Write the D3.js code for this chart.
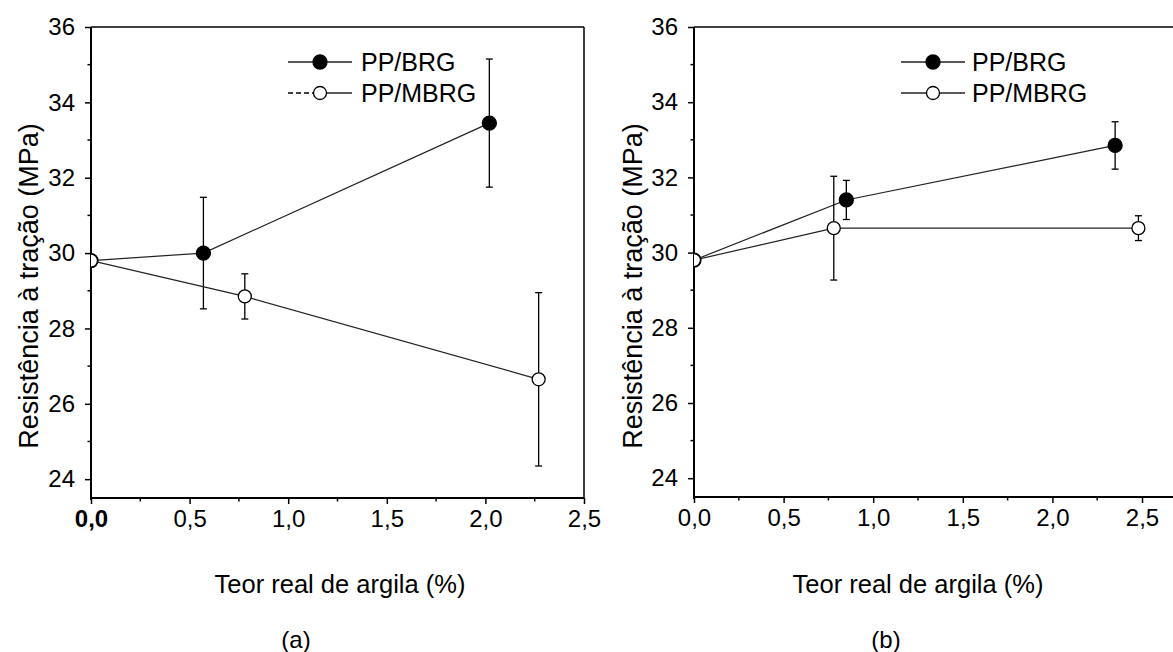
<!DOCTYPE html>
<html>
<head>
<meta charset="utf-8">
<script src="https://cdn.jsdelivr.net/npm/d3@7"></script>
<style>
  html, body { margin: 0; padding: 0; background: #fff; }
  svg { display: block; }
  text { font-family: "Liberation Sans", Arial, sans-serif; fill: #000; }
</style>
</head>
<body>
<svg id="chart" width="1173" height="652"></svg>
<script>
// ---------- data ----------
const xTickValues = [0, 0.5, 1.0, 1.5, 2.0, 2.5];
const xTickLabels = ["0,0", "0,5", "1,0", "1,5", "2,0", "2,5"];
const yTickValues = [24, 26, 28, 30, 32, 34, 36];
const seriesNames = ["PP/BRG", "PP/MBRG"];
const yTitle = "Resistência à tração (MPa)";
const xTitle = "Teor real de argila (%)";
const panelLabels = ["(a)", "(b)"];

// panel (a)
const aBRG_x = [0, 0.57, 2.02];
const aBRG_y = [29.8, 30.0, 33.45];
const aBRG_err = [0, 1.48, 1.7];
const aMBRG_x = [0, 0.78, 2.27];
const aMBRG_y = [29.8, 28.85, 26.65];
const aMBRG_err = [0, 0.6, 2.3];

// panel (b)
const bBRG_x = [0, 0.85, 2.35];
const bBRG_y = [29.8, 31.4, 32.85];
const bBRG_err = [0, 0.52, 0.63];
const bMBRG_x = [0, 0.78, 2.48];
const bMBRG_y = [29.8, 30.65, 30.65];
const bMBRG_err = [0, 1.38, 0.33];

// ---------- layout ----------
const svg = d3.select("#chart");
const TICK_FONT = 24;
const LEG_FONT = 25;
const XT_FONT = 25.5;
const YT_FONT = 27;
const LAB_FONT = 24;

const panels = [
  {
    key: "a",
    xDomain: [0, 2.5], xRange: [91, 584],
    yDomain: [23.5, 36], yRange: [498, 27],
    rightFrame: true,
    series: [
      {x: aBRG_x, y: aBRG_y, e: aBRG_err, filled: true},
      {x: aMBRG_x, y: aMBRG_y, e: aMBRG_err, filled: false}
    ],
    legend: {x: 320, y: 62, textX: 361},
    label: panelLabels[0], labelX: 296,
    titleX: 340, yTitleX: 38,
    boldZero: true, dashedLegend: true
  },
  {
    key: "b",
    xDomain: [0, 2.712], xRange: [694, 1180],
    yDomain: [23.5, 36], yRange: [497, 27],
    rightFrame: false,
    series: [
      {x: bBRG_x, y: bBRG_y, e: bBRG_err, filled: true},
      {x: bMBRG_x, y: bMBRG_y, e: bMBRG_err, filled: false}
    ],
    legend: {x: 933, y: 62, textX: 972},
    label: panelLabels[1], labelX: 886,
    titleX: 918, yTitleX: 642,
    boldZero: false, dashedLegend: false
  }
];

panels.forEach((p, pi) => {
  const x = d3.scaleLinear().domain(p.xDomain).range(p.xRange);
  const y = d3.scaleLinear().domain(p.yDomain).range(p.yRange);
  const g = svg.append("g");
  const x0 = p.xRange[0], x1 = p.xRange[1], yb = p.yRange[0], yt = p.yRange[1];

  const clipId = "clip-" + p.key;
  svg.append("clipPath").attr("id", clipId)
    .append("rect").attr("x", x0).attr("y", yt - 10).attr("width", x1 - x0 + 20).attr("height", yb - yt + 10);

  // frame
  g.append("line").attr("x1", x0).attr("x2", x1).attr("y1", yt).attr("y2", yt)
    .attr("stroke", "#000").attr("stroke-width", 1.5);
  if (p.rightFrame) {
    g.append("line").attr("x1", x1).attr("x2", x1).attr("y1", yt).attr("y2", yb)
      .attr("stroke", "#000").attr("stroke-width", 1.5);
  }

  // x axis
  const xAxis = d3.axisBottom(x).tickValues(xTickValues)
    .tickFormat((d, i) => xTickLabels[i]).tickSize(6).tickPadding(6);
  const gx = g.append("g").attr("transform", `translate(0,${yb})`).call(xAxis);
  gx.select(".domain").attr("stroke-width", 2).attr("d", `M${x0},0H${Math.min(x1, 1175)}`);
  gx.selectAll(".tick line").attr("stroke-width", 1.5);
  gx.selectAll(".tick text").attr("font-size", TICK_FONT)
    .attr("font-family", '"Liberation Sans", Arial, sans-serif')
    .attr("font-weight", (d, i) => (p.boldZero && i === 0) ? "bold" : "normal");
  const xMinor = d3.range(0.25, 2.5, 0.5);
  g.append("g").selectAll("line").data(xMinor).join("line")
    .attr("x1", d => x(d)).attr("x2", d => x(d)).attr("y1", yb).attr("y2", yb + 3.5)
    .attr("stroke", "#000").attr("stroke-width", 1.5);

  // y axis
  const yAxis = d3.axisLeft(y).tickValues(yTickValues).tickFormat(d3.format("d")).tickSize(6).tickPadding(10);
  const gy = g.append("g").attr("transform", `translate(${x0},0)`).call(yAxis);
  gy.select(".domain").attr("stroke-width", 2).attr("d", `M0,${yt}V${yb + 2}`);
  gy.selectAll(".tick line").attr("stroke-width", 1.5);
  gy.selectAll(".tick text").attr("font-size", TICK_FONT)
    .attr("font-family", '"Liberation Sans", Arial, sans-serif');
  const yMinor = d3.range(25, 36, 2);
  g.append("g").selectAll("line").data(yMinor).join("line")
    .attr("x1", x0).attr("x2", x0 - 3.5).attr("y1", d => y(d)).attr("y2", d => y(d))
    .attr("stroke", "#000").attr("stroke-width", 1.5);

  // titles
  g.append("text").attr("x", p.titleX).attr("y", 593).attr("text-anchor", "middle")
    .attr("font-size", XT_FONT).text(xTitle);
  g.append("text").attr("transform", `translate(${p.yTitleX},286) rotate(-90)`)
    .attr("text-anchor", "middle").attr("font-size", YT_FONT).text(yTitle);
  g.append("text").attr("x", p.labelX).attr("y", 648).attr("text-anchor", "middle")
    .attr("font-size", LAB_FONT).text(p.label);

  // data
  const plot = g.append("g").attr("clip-path", `url(#${clipId})`);
  p.series.forEach(s => {
    const pts = s.x.map((xv, i) => ({x: xv, y: s.y[i], e: s.e[i]}));
    plot.append("path").datum(pts)
      .attr("d", d3.line().x(d => x(d.x)).y(d => y(d.y)))
      .attr("fill", "none").attr("stroke", "#222").attr("stroke-width", 1.2);
    const eb = plot.append("g").selectAll("g").data(pts.filter(d => d.e > 0)).join("g");
    eb.append("line").attr("x1", d => x(d.x)).attr("x2", d => x(d.x))
      .attr("y1", d => y(d.y - d.e)).attr("y2", d => y(d.y + d.e))
      .attr("stroke", "#000").attr("stroke-width", 1.3);
    [1, -1].forEach(sg => {
      eb.append("line").attr("x1", d => x(d.x) - 3.5).attr("x2", d => x(d.x) + 3.5)
        .attr("y1", d => y(d.y + sg * d.e)).attr("y2", d => y(d.y + sg * d.e))
        .attr("stroke", "#000").attr("stroke-width", 1.3);
    });
    plot.append("g").selectAll("circle").data(pts).join("circle")
      .attr("cx", d => x(d.x)).attr("cy", d => y(d.y))
      .attr("r", s.filled ? 7 : 6.5)
      .attr("fill", s.filled ? "#000" : "#fff")
      .attr("stroke", "#000").attr("stroke-width", 1.3);
  });

  // legend
  seriesNames.forEach((name, i) => {
    const ly = p.legend.y + i * 31;
    const lx = p.legend.x;
    g.append("line").attr("x1", lx - 32).attr("x2", lx).attr("y1", ly).attr("y2", ly)
      .attr("stroke", "#000").attr("stroke-width", 1.3)
      .attr("stroke-dasharray", (p.dashedLegend && i === 1) ? "5,3" : null);
    g.append("line").attr("x1", lx).attr("x2", lx + 32).attr("y1", ly).attr("y2", ly)
      .attr("stroke", "#000").attr("stroke-width", 1.3);
    g.append("circle").attr("cx", lx).attr("cy", ly).attr("r", i === 0 ? 7 : 6.5)
      .attr("fill", i === 0 ? "#000" : "#fff").attr("stroke", "#000").attr("stroke-width", 1.3);
    g.append("text").attr("x", p.legend.textX).attr("y", ly).attr("dy", "0.36em")
      .attr("font-size", LEG_FONT).text(name);
  });
});
</script>
</body>
</html>
